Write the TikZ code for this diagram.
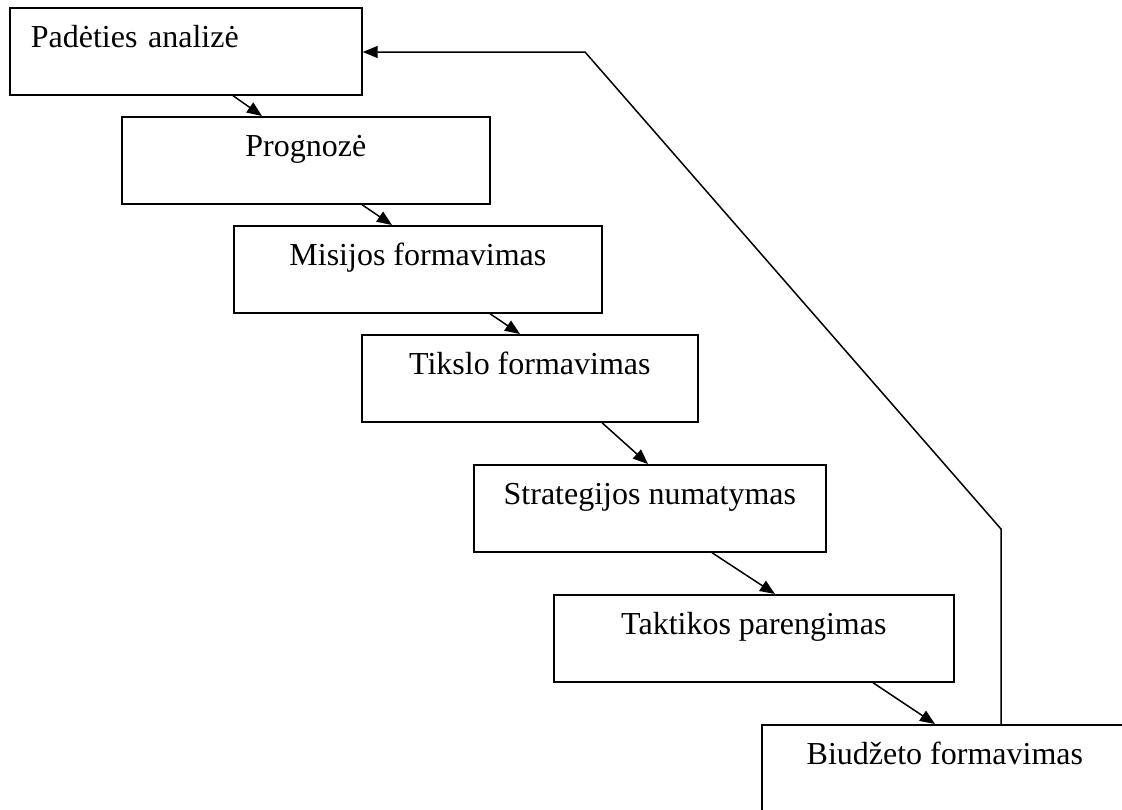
\documentclass[tikz,border=0pt]{standalone}
\usepackage{fontspec}
\setmainfont{Liberation Serif}
\usetikzlibrary{arrows.meta,calc}

\begin{document}
\begin{tikzpicture}[x=0.5pt,y=-0.5pt,
    stage/.style={draw,line width=0.85pt,inner sep=0pt,anchor=north west,
      font=\fontsize{16}{19}\selectfont,text height=20pt,text depth=23.5pt},
    flow/.style={line width=0.75pt,-{Triangle[length=7.5pt,width=6pt]}}]
    \clip (0,0) rectangle (1122,809);

    \node[stage,minimum width=176pt,inner xsep=10.5pt,text width=155pt,align=left] (1) at (9,7) {Padėties analizė};
    \node[stage,minimum width=184pt] (2) at (121,116) {Prognozė};
    \node[stage,minimum width=184pt] (3) at (233,225) {Misijos formavimas};
    \node[stage,minimum width=168pt] (4) at (361,334) {Tikslo formavimas};
    \node[stage,minimum width=176pt] (5) at (473,464) {Strategijos numatymas};
    \node[stage,minimum width=200pt] (6) at (553,594) {Taktikos parengimas};
    \node[stage,minimum width=183pt] (7) at (761,724) {Biudžeto formavimas};

    \coordinate (r1) at (1001,529);
    \coordinate (r2) at (585,52);

    \path[flow]
    ($(1.south west)+(224,0)$) edge ($(2.north west)+(141,0)$)
    ($(2.south west)+(241,0)$) edge ($(3.north west)+(159,0)$)
    ($(3.south west)+(257,0)$) edge ($(4.north west)+(159,0)$)
    ($(4.south west)+(241,0)$) edge ($(5.north west)+(175,0)$)
    ($(5.south west)+(239,0)$) edge ($(6.north west)+(222,0)$)
    ($(6.south west)+(320,0)$) edge ($(7.north west)+(174,0)$);

    \draw[flow] ($(7.north west)+(240,0)$) -- (r1) -- (r2) -- (r2 -| 1.east);
\end{tikzpicture}
\end{document}
